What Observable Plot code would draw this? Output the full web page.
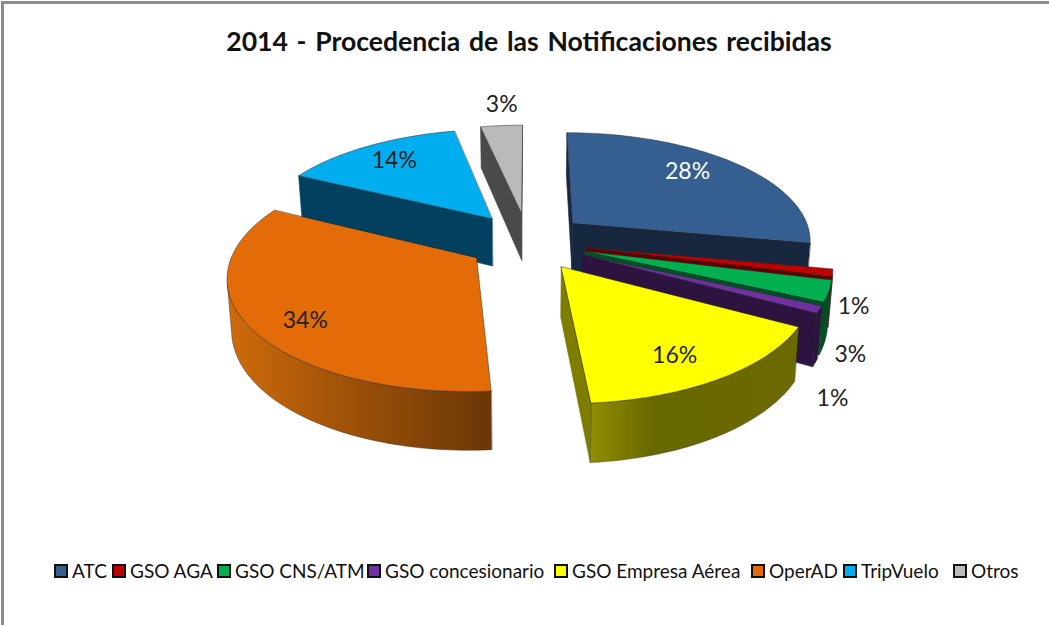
<!DOCTYPE html>
<html>
<head>
<meta charset="utf-8">
<script src="https://cdn.jsdelivr.net/npm/d3@7"></script>
<script src="https://cdn.jsdelivr.net/npm/@observablehq/plot@0.6"></script>
<style>
html,body{margin:0;padding:0;background:#fff;overflow:hidden}
#frame{position:relative;width:1049px;height:625px;background:#fff;font-family:Lato,"Open Sans",sans-serif;color:#111}
#frame:before{content:"";position:absolute;left:1px;top:1px;right:-4px;bottom:-4px;border:3px solid #8c8c8c;pointer-events:none;z-index:2}
#title{height:80px;box-sizing:border-box;padding:25px 0 0 9px;text-align:center;font-size:26.6px;line-height:32px;font-weight:700;word-spacing:2.2px}
#legend{position:absolute;left:0;top:560px;width:1049px;height:22px;font-size:19px;line-height:22px;white-space:nowrap}
#legend .item{position:absolute;top:0;display:flex;align-items:center}
#legend .sw{width:10px;height:10px;border:2px solid #111;margin-right:4px;display:inline-block}
svg{display:block}
</style>
</head>
<body>
<div id="frame">
  <div id="title">2014 - Procedencia de las Notificaciones recibidas</div>
  <div id="chart"></div>
  <div id="legend"></div>
</div>
<script>
const categories = ["ATC","GSO AGA","GSO CNS/ATM","GSO concesionario","GSO Empresa Aérea","OperAD","TripVuelo","Otros"];
const values = [28,1,3,1,15.7,33.7,14.3,3.3];
const topColors = ["#355f91","#c00000","#00b050","#7030a0","#ffff00","#e36c09","#00aeef","#bababa"];
const wallColors = ["#16273f","#600000","#004f26","#2d1440","#7d7d00","#723605","#01415f","#4a4a4a"];
const yellowWallStops = [[0,"#8f8f00"],[.3,"#686800"],[1,"#6a6a00"]];
const orangeWallStops = [[0,"#cf6b0b"],[.5,"#9a4f08"],[1,"#6a3706"]];
const labelColors = ["#ffffff","#222","#222","#222","#222","#222","#222","#222"];
const labelRadius = [.765,1.119,1.236,1.354,.791,.811,.778,1.285];
const labelShift = [-5.1,13.6,21.3,25.5,3,-5.2,.4,1.2];
const legendStarts = [54,112,217,367,554,751,843,953];

// 3D view of the pie
const w0 = 6.8, explodeX = .25, explodeY = .27, depth = .45, taper = .985;
const rad = d => d * Math.PI / 180;
const project = (X, Y) => ({x: X * w0 / (w0 + Y), y: w0 * Y / (w0 + Y)});
const bottom = (p, X, Y) => ({x: p.x * taper, y: p.y - depth * w0 / (w0 + Y)});
const arcFills = {4: "url(#wallYellow)", 5: "url(#wallOrange)"};

const total = d3.sum(values);
let cum = 0;
const slices = values.map((v, i) => {
  const a0 = cum / total * 360; cum += v; const a1 = cum / total * 360;
  const m = (a0 + a1) / 2;
  return {i, a0, a1, m, ax: explodeX * Math.sin(rad(m)), ay: explodeY * Math.cos(rad(m))};
});

const area = pts => d3.sum(pts, (p, k) => { const q = pts[(k + 1) % pts.length]; return p.x * q.y - q.x * p.y; });
const face = (points, fill, stroke, strokeWidth) => Plot.line(points, {
  x: "x", y: "y", fill, stroke, strokeWidth, curve: "linear-closed", strokeLinejoin: "round"
});
const quadOf = (a, b) => {
  const ta = project(a.X, a.Y), tb = project(b.X, b.Y);
  return [ta, tb, bottom(tb, b.X, b.Y), bottom(ta, a.X, a.Y)];
};

function sliceMarks(s) {
  const {i, a0, a1, ax, ay} = s;
  const n = Math.max(2, Math.ceil((a1 - a0) / 1.5));
  const rim = d3.range(n + 1).map(k => {
    const t = a0 + (a1 - a0) * k / n;
    return {X: ax + Math.sin(rad(t)), Y: ay + Math.cos(rad(t))};
  });
  const apex = {X: ax, Y: ay};
  const marks = [];
  // the two cut faces, when they look at the viewer
  for (const [a, b] of [[apex, rim[0]], [rim[n], apex]]) {
    const q = quadOf(a, b);
    if (area(q) > 0) marks.push(face(q, wallColors[i], wallColors[i], .6));
  }
  // the curved outer wall, only the part that looks at the viewer
  const seen = d3.range(n).filter(k => area(quadOf(rim[k], rim[k + 1])) > 0);
  if (seen.length) {
    const run = d3.range(seen[0], seen[seen.length - 1] + 2).map(k => rim[k]);
    const upper = run.map(p => project(p.X, p.Y));
    const lower = run.map((p, k) => bottom(upper[k], p.X, p.Y)).reverse();
    const fill = arcFills[i] || wallColors[i];
    marks.push(face([...upper, ...lower], fill, "#2a2a2a", .4));
  }
  // the top
  marks.push(face([apex, ...rim].map(p => project(p.X, p.Y)), topColors[i], "#2a2a2a", .5));
  return marks;
}

// painter order: back slices first
const drawOrder = [7, 6, 5, 0, 1, 2, 3, 4];
const polyMarks = drawOrder.flatMap(i => sliceMarks(slices[i]));

const labels = slices.map(s => {
  const a = rad(s.m + labelShift[s.i]), r = labelRadius[s.i];
  const p = project(s.ax + r * Math.sin(a), s.ay + r * Math.cos(a));
  return {x: p.x, y: p.y, text: Math.round(values[s.i] / total * 100) + "%", fill: labelColors[s.i]};
});

const gradient = (id, stops) => () => {
  const defs = d3.create("svg:defs");
  const g = defs.append("linearGradient").attr("id", id).attr("x1", 0).attr("x2", 1).attr("y1", 0).attr("y2", 0);
  stops.forEach(([o, c]) => g.append("stop").attr("offset", o).attr("stop-color", c));
  return defs.node();
};

const chart = Plot.plot({
  width: 1049, height: 470,
  margin: 0,
  x: {domain: [-527 / 240, 522 / 240], range: [0, 1049], axis: null},
  y: {domain: [-309.3 / 108.5, 160.7 / 108.5], range: [470, 0], axis: null},
  color: {type: "identity"},
  style: {background: "transparent", overflow: "visible"},
  marks: [
    gradient("wallYellow", yellowWallStops),
    gradient("wallOrange", orangeWallStops),
    ...polyMarks,
    Plot.text(labels, {x: "x", y: "y", text: "text", fill: "fill", fontSize: 23, fontFamily: "Lato", textAnchor: "middle"})
  ]
});
document.getElementById("chart").appendChild(chart);

const legend = d3.select("#legend");
categories.forEach((c, i) => {
  const it = legend.append("div").attr("class", "item").style("left", legendStarts[i] + "px");
  it.append("span").attr("class", "sw").style("background", topColors[i]);
  it.append("span").text(c);
});
</script>
</body>
</html>
